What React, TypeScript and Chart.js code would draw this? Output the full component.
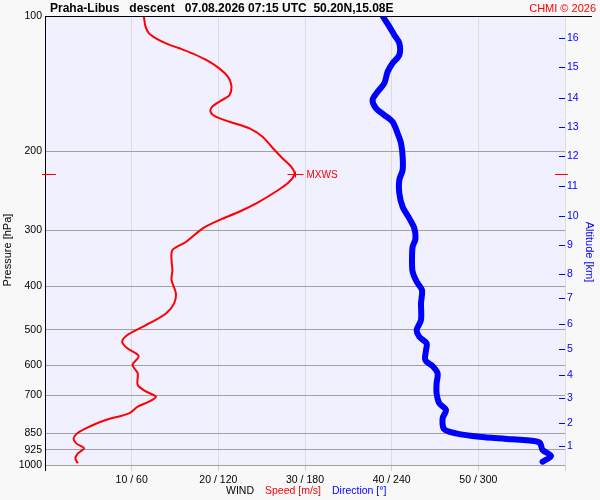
import React, { useEffect, useRef } from "react";
import { Chart, registerables } from "chart.js";

Chart.register(...registerables);

// ---- data ----
const pressureTicks = [100, 200, 300, 400, 500, 600, 700, 850, 925, 1000];
const speedTicks = [10, 20, 30, 40, 50];
const altitudeKm = [1, 2, 3, 4, 5, 6, 7, 8, 9, 10, 11, 12, 13, 14, 15, 16];
const altitudePressure = [907, 805, 710.5, 630, 551, 485, 424, 375.5, 323.6, 278.5, 239, 205, 176.4, 152, 130.1, 111.8];

const speedPressure = [
  100, 105.6, 109.3, 112.1, 115.4, 118.0, 121.1, 125.3, 130.8, 136.5, 142.5, 150.0, 154.4, 159.2, 163.4,
  167.6, 172.0, 177.9, 185.7, 197.0, 207.4, 216.6, 224.9, 235.9, 246.3, 259.3, 272.9, 284.8, 297.2, 318.3,
  332.1, 349.5, 367.9, 387.3, 414.6, 436.4, 459.4, 479.6, 496.2, 513.5, 531.5, 549.8, 571.9, 598.9, 624.9,
  663.5, 686.7, 704.5, 722.8, 741.5, 767.1, 794.0, 821.8, 847.5, 872.2, 894.9, 918.1, 941.9, 966.1, 991.3,
];
const speedValues = [
  11.4, 11.6, 12.0, 12.8, 14.1, 15.5, 17.0, 18.6, 20.1, 21.1, 21.5, 21.3, 20.3, 19.3, 19.1,
  19.7, 21.3, 23.6, 25.1, 26.3, 27.4, 28.4, 28.8, 28.0, 26.6, 24.7, 22.4, 20.1, 18.2, 16.3,
  14.7, 14.6, 14.7, 14.6, 15.1, 14.9, 14.0, 12.4, 10.9, 9.5, 8.9, 9.5, 10.8, 10.1, 10.7,
  10.7, 11.7, 12.8, 12.0, 10.7, 9.7, 7.0, 5.1, 3.8, 3.3, 3.6, 4.5, 3.8, 3.5, 3.8,
];

const directionPressure = [
  100, 105.6, 110.2, 115.0, 122.1, 127.4, 133.1, 141.2, 147.5, 153.8, 160.6, 166.2, 172.0, 182.5, 192.1,
  205.7, 220.3, 231.9, 248.3, 266.0, 282.3, 297.2, 314.4, 326.5, 349.5, 371.1, 390.7, 407.7, 436.4, 475.4,
  500.6, 517.9, 535.9, 554.6, 583.8, 602.0, 624.9, 657.8, 692.4, 728.8, 754.2, 787.1, 832.8, 850.1, 865.1,
  876.7, 890.3, 926.2, 954.8, 983.2,
];
const directionValues = [
  233.7, 238.4, 241.8, 245.3, 245.3, 240.6, 237.2, 234.9, 230.3, 226.8, 229.2, 234.9, 240.6, 244.1, 246.5,
  247.6, 247.6, 245.3, 245.3, 247.6, 252.2, 255.7, 256.4, 254.5, 254.1, 254.5, 257.3, 261.0, 260.3, 260.3,
  257.3, 259.1, 264.2, 263.8, 263.3, 268.3, 271.8, 271.1, 271.1, 273.0, 277.6, 275.3, 276.4, 284.5, 300.7,
  323.7, 342.2, 344.5, 350.3, 344.5,
];

const mxwsSpeed = 28.8;
const mxwsPressure = 225;

const titleText = "Praha-Libus   descent   07.08.2026 07:15 UTC  50.20N,15.08E";
const creditText = "CHMI \u00A9 2026";

const FONT = "'Liberation Sans', Arial, sans-serif";
const RED = "#ff0000";
const BLUE = "#0000ff";

const decorPlugin = {
  id: "decor",
  beforeDraw(chart: any) {
    const { ctx, chartArea: a, width, height } = chart;
    ctx.save();
    ctx.fillStyle = "#f8f8f8";
    ctx.fillRect(0, 0, width, height);
    ctx.fillStyle = "#f0f0ff";
    ctx.fillRect(a.left, a.top, a.right - a.left, a.bottom - a.top);
    ctx.restore();
  },
  afterDraw(chart: any) {
    const { ctx, chartArea: a } = chart;
    const ys = chart.scales.y;
    const xs = chart.scales.x;
    const alt = chart.scales.alt;
    ctx.save();
    // top line & left axis
    ctx.strokeStyle = "#000";
    ctx.lineWidth = 1;
    ctx.beginPath();
    ctx.moveTo(a.left, Math.round(a.top) + 0.5);
    ctx.lineTo(592, Math.round(a.top) + 0.5);
    ctx.moveTo(Math.round(a.left) + 0.5, a.top);
    ctx.lineTo(Math.round(a.left) + 0.5, a.bottom + 6);
    ctx.stroke();

    // altitude ticks inside
    ctx.strokeStyle = BLUE;
    ctx.beginPath();
    altitudePressure.forEach((p) => {
      const y = Math.round(alt.getPixelForValue(p)) + 0.5;
      ctx.moveTo(a.right - 6, y);
      ctx.lineTo(a.right, y);
    });
    ctx.stroke();

    // MXWS markers
    const my = Math.round(ys.getPixelForValue(mxwsPressure)) + 0.5;
    const mx = Math.round(xs.getPixelForValue(mxwsSpeed)) + 0.5;
    ctx.strokeStyle = RED;
    ctx.beginPath();
    ctx.moveTo(a.left - 3, my);
    ctx.lineTo(a.left + 11, my);
    ctx.moveTo(a.right - 10, my);
    ctx.lineTo(a.right + 3, my);
    ctx.moveTo(mx - 8, my);
    ctx.lineTo(mx + 8, my);
    ctx.moveTo(mx, my - 3);
    ctx.lineTo(mx, my + 3);
    ctx.stroke();
    ctx.fillStyle = RED;
    ctx.font = `10px ${FONT}`;
    ctx.textBaseline = "middle";
    ctx.textAlign = "left";
    ctx.fillText("MXWS", mx + 11, my + 1);

    // title
    ctx.textBaseline = "alphabetic";
    ctx.fillStyle = "#000";
    ctx.font = `bold 12px ${FONT}`;
    ctx.fillText(titleText, 50, 12);
    ctx.fillStyle = RED;
    ctx.font = `11px ${FONT}`;
    ctx.textAlign = "right";
    ctx.fillText(creditText, 596, 12);

    // bottom legend
    ctx.textAlign = "left";
    ctx.textBaseline = "middle";
    ctx.font = `10.5px ${FONT}`;
    ctx.fillStyle = "#000";
    ctx.fillText("WIND", 226, 491);
    ctx.fillStyle = RED;
    ctx.fillText("Speed [m/s]", 265, 491);
    ctx.fillStyle = BLUE;
    ctx.fillText("Direction [\u00B0]", 332, 491);

    // axis titles
    ctx.font = `11px ${FONT}`;
    ctx.textAlign = "center";
    ctx.fillStyle = "#000";
    ctx.save();
    ctx.translate(8, 250);
    ctx.rotate(-Math.PI / 2);
    ctx.fillText("Pressure [hPa]", 0, 0);
    ctx.restore();
    ctx.fillStyle = BLUE;
    ctx.save();
    ctx.translate(589, 252);
    ctx.rotate(Math.PI / 2);
    ctx.fillText("Altitude [km]", 0, 0);
    ctx.restore();

    ctx.restore();
  },
};

export default function App() {
  const ref = useRef<HTMLCanvasElement | null>(null);

  useEffect(() => {
    if (!ref.current) return;
    const tickFont = { family: FONT, size: 10.5 };
    const chart = new Chart(ref.current, {
      type: "scatter",
      data: {
        datasets: [
          {
            label: "Speed",
            data: speedValues.map((v, i) => ({ x: v, y: speedPressure[i] })),
            xAxisID: "x",
            yAxisID: "y",
            showLine: true,
            borderColor: RED,
            backgroundColor: RED,
            borderWidth: 2,
            pointRadius: 0,
            tension: 0.3,
          },
          {
            label: "Direction",
            data: directionValues.map((v, i) => ({ x: v, y: directionPressure[i] })),
            xAxisID: "x2",
            yAxisID: "y",
            showLine: true,
            borderColor: BLUE,
            backgroundColor: BLUE,
            borderWidth: 6,
            borderCapStyle: "round",
            borderJoinStyle: "round",
            pointRadius: 0,
            tension: 0.3,
          },
        ],
      } as any,
      options: {
        responsive: false,
        maintainAspectRatio: false,
        animation: false,
        devicePixelRatio: 1,
        layout: { padding: { top: 16, left: 0, right: 0, bottom: 0 } },
        plugins: { legend: { display: false }, tooltip: { enabled: false } },
        scales: {
          x: {
            type: "linear",
            position: "bottom",
            min: 0,
            max: 60,
            afterBuildTicks: (s: any) => {
              s.ticks = [0, ...speedTicks, 60].map((v) => ({ value: v }));
            },
            ticks: {
              callback: (v: any) => (speedTicks.includes(v) ? `${v} / ${v * 6}` : ""),
              color: "#000",
              font: tickFont,
              padding: 3,
              maxRotation: 0,
              autoSkip: false,
            },
            grid: { color: "#dcdcdc", tickColor: "#d0d0d0", tickLength: 6 },
            border: { display: false },
            afterFit: (s: any) => {
              s.height = 35;
            },
          },
          x2: { type: "linear", min: 0, max: 360, display: false },
          y: {
            type: "logarithmic",
            position: "left",
            min: 100,
            max: 1000,
            reverse: true,
            afterBuildTicks: (s: any) => {
              s.ticks = pressureTicks.map((v) => ({ value: v }));
            },
            ticks: {
              callback: (v: any) => String(v),
              color: "#000",
              font: tickFont,
              padding: 3,
              autoSkip: false,
            },
            grid: { color: "#a0a0a0", drawTicks: false },
            border: { display: false },
            afterFit: (s: any) => {
              s.width = 45;
            },
          },
          alt: {
            type: "logarithmic",
            position: "right",
            min: 100,
            max: 1000,
            reverse: true,
            afterBuildTicks: (s: any) => {
              s.ticks = altitudePressure.map((v) => ({ value: v }));
            },
            ticks: {
              callback: (_v: any, i: number) => String(altitudeKm[i]),
              color: BLUE,
              font: tickFont,
              padding: 2,
              autoSkip: false,
            },
            grid: { drawOnChartArea: false, drawTicks: false },
            border: { display: false },
            afterFit: (s: any) => {
              s.width = 35;
            },
          },
        },
      } as any,
      plugins: [decorPlugin],
    });
    return () => chart.destroy();
  }, []);

  return (
    <div style={{ position: "fixed", left: 0, top: 0, width: 600, height: 500 }}>
      <canvas ref={ref} width={600} height={500} style={{ display: "block" }} />
    </div>
  );
}
